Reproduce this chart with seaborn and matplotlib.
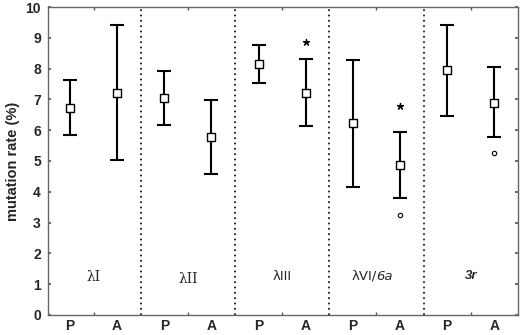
import matplotlib
matplotlib.use("Agg")
import matplotlib.pyplot as plt
import seaborn as sns
import numpy as np
import pandas as pd

groups = ["λI", "λII", "λIII", "λVI/6a", "3r"]
conds = ["P", "A"] * 5
centers = [6.72, 7.21, 7.05, 5.78, 8.15, 7.21, 6.23, 4.87, 7.95, 6.88]
uppers = [7.63, 9.42, 7.92, 6.98, 8.77, 8.31, 8.28, 5.94, 9.42, 8.05]
lowers = [5.84, 5.03, 6.17, 4.58, 7.53, 6.14, 4.16, 3.80, 6.46, 5.78]
star_pos = [5, 7]
star_y = [8.86, 6.79]
circle_pos = [7, 9]
circle_y = [3.25, 5.26]
group_label_y = [1.22, 1.18, 1.25, 1.25, 1.25]

sns.set_theme(style="ticks")
plt.rcParams['font.family'] = ['Liberation Sans', 'DejaVu Sans']

fig = plt.figure(figsize=(5.2, 3.35), dpi=100)
ax = fig.add_axes([0.092, 0.06, 0.904, 0.919])

x = np.arange(len(centers))
df = pd.DataFrame({"x": x, "cond": conds, "y": centers, "lo": lowers, "hi": uppers})
yerr = np.vstack([df["y"] - df["lo"], df["hi"] - df["y"]])
ax.errorbar(df["x"], df["y"], yerr=yerr, fmt="none", ecolor="black",
            elinewidth=1.5, capsize=5, capthick=1.5, zorder=2)
sns.scatterplot(data=df, x="x", y="y", marker="s", s=28, facecolor="white",
                edgecolor="black", linewidth=1.0, ax=ax, zorder=3, legend=False)

ax.scatter(star_pos, star_y, marker=(5, 2, 0), s=18, color="black", linewidths=1.0, zorder=3)
ax.scatter(circle_pos, circle_y, marker="o", s=10, facecolor="white",
           edgecolor="black", linewidths=0.8, zorder=3)

for d in [1.5, 3.5, 5.5, 7.5]:
    ax.axvline(d, color="black", linestyle=(0, (1, 2.2)), linewidth=1.2, zorder=1)

for i, g in enumerate(groups):
    cx = 2 * i + 0.5
    if g == "λVI/6a":
        ax.text(cx, group_label_y[i], "λVI/", ha="right", va="center", fontsize=9.5,
                family=["DejaVu Sans"])
        ax.text(cx, group_label_y[i], "6a", ha="left", va="center", fontsize=9.5,
                style="italic", family=["DejaVu Sans"])
    elif g == "3r":
        ax.text(cx, group_label_y[i], g, ha="center", va="center", fontsize=9.5,
                style="italic", fontweight="bold", family=["Liberation Sans"])
    elif g == "λIII":
        ax.text(cx, group_label_y[i], g, ha="center", va="center", fontsize=9.5,
                family=["DejaVu Sans"])
    else:
        ax.text(cx, group_label_y[i], g, ha="center", va="center", fontsize=10,
                family=["DejaVu Serif"])

ax.set_xlim(-0.47, 9.5)
ax.set_ylim(0, 10)
ax.set_xticks(x)
ax.set_xticklabels(conds, fontsize=10, fontweight="bold")
ax.set_yticks(range(0, 11))
ax.set_yticklabels([str(v) for v in range(0, 11)], fontsize=10, fontweight="bold")
ax.set_xticks([0.5, 2.5, 4.5, 6.5, 8.5], minor=True)
ax.tick_params(axis="x", which="major", length=0, pad=3)
ax.tick_params(axis="x", which="minor", length=2, direction="in", top=True, color="#555555")
ax.tick_params(axis="y", which="major", length=2, direction="in", right=True, color="#555555", pad=5)
ax.set_xlabel("")
ax.set_ylabel("mutation rate (%)", fontsize=10.5, fontweight="bold", labelpad=4)
for s in ax.spines.values():
    s.set_color("#666666")
    s.set_linewidth(1.0)
    s.set_visible(True)

fig.savefig("out.png", dpi=100)
